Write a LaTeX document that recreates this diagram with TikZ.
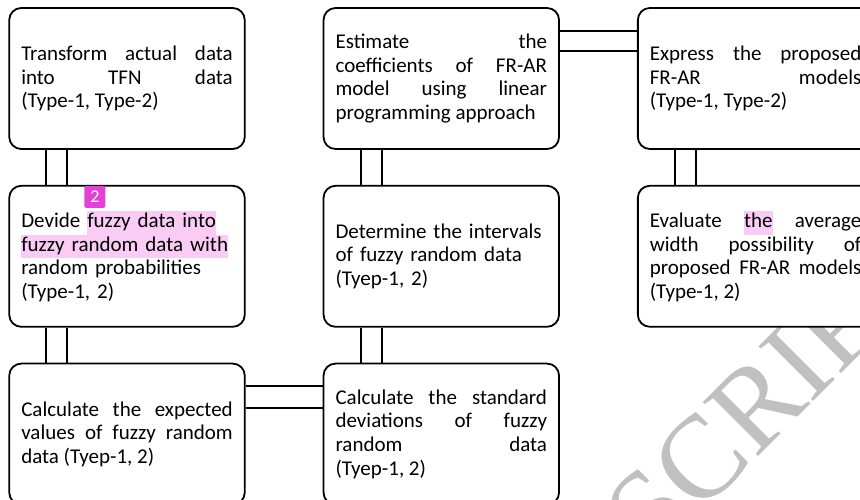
\documentclass[tikz,border=0pt]{standalone}
\usepackage{fontspec}
\setmainfont{Carlito}
\newfontfamily\wmfont{Liberation Serif}
\usetikzlibrary{positioning}

\definecolor{hlpink}{RGB}{250,204,245}
\definecolor{badgemag}{RGB}{228,64,214}
\definecolor{wmgray}{RGB}{192,192,192}

\newcommand{\hlt}[1]{{\setlength{\fboxsep}{0pt}\colorbox{hlpink}{\strut #1}}}

\tikzset{
  procbox/.style={draw, fill=white, line width=1.8pt, rounded corners=12pt,
    text width=211.5pt, inner xsep=12pt, inner ysep=0pt, align=justify,
    minimum height=141pt, font=\fontsize{21}{23.6}\selectfont\frenchspacing},
  link/.style={line width=1.8pt},
}

\begin{document}
\begin{tikzpicture}[x=1pt, y=1pt, node distance=35pt and 77pt]

\useasboundingbox (0,0) rectangle (860,500);
\clip (0,0) rectangle (860,500);

% watermark
\node[wmgray, rotate=45, anchor=base west, inner sep=0pt,
      font=\wmfont\fontsize{118}{118}\selectfont] (wm) at (653,-62) {SCRIPT};

% left column
\node[procbox] (transform) at (127,421.5)
  {Transform actual data\linebreak into TFN data\linebreak (Type-1, Type-2)};
\node[procbox, align=left, below=of transform] (divide)
  {Devide \hlt{fuzzy data into}\\ \hlt{fuzzy random data with}\\ random probabilities\\ (Type-1, 2)};
\node[procbox, below=of divide] (expect)
  {Calculate the expected\linebreak values of fuzzy random\linebreak data (Tyep-1, 2)};

% middle column
\node[procbox, right=of transform] (estimate)
  {Estimate the\linebreak coefficients of FR-AR\linebreak model using linear\linebreak programming approach};
\node[procbox, align=left, below=of estimate] (interval)
  {Determine the intervals\\ of fuzzy random data\\ (Tyep-1, 2)};
\node[procbox, below=of interval] (stdev)
  {Calculate the standard\linebreak deviations of fuzzy\linebreak random data\linebreak (Tyep-1, 2)};

% right column
\node[procbox, right=of estimate] (express)
  {Express the proposed\linebreak FR-AR models\linebreak (Type-1, Type-2)};
\node[procbox, below=of express] (evaluate)
  {Evaluate \hlt{the} average\linebreak width possibility of\linebreak proposed FR-AR models\linebreak (Type-1, 2)};

% comment marker
\node[fill=badgemag, text=white, rounded corners=2pt, inner sep=0pt,
      minimum width=21pt, minimum height=22pt,
      font=\fontsize{18}{18}\selectfont] (badge)
  at ([xshift=86.5pt, yshift=-12pt]divide.north west) {2};

% double links
\draw[link] ([xshift=38pt]transform.south west) -- ([xshift=38pt]divide.north west);
\draw[link] ([xshift=59pt]transform.south west) -- ([xshift=59pt]divide.north west);
\draw[link] ([xshift=38pt]divide.south west) -- ([xshift=38pt]expect.north west);
\draw[link] ([xshift=59pt]divide.south west) -- ([xshift=59pt]expect.north west);
\draw[link] ([xshift=38pt]estimate.south west) -- ([xshift=38pt]interval.north west);
\draw[link] ([xshift=59pt]estimate.south west) -- ([xshift=59pt]interval.north west);
\draw[link] ([xshift=38pt]interval.south west) -- ([xshift=38pt]stdev.north west);
\draw[link] ([xshift=59pt]interval.south west) -- ([xshift=59pt]stdev.north west);
\draw[link] ([xshift=38pt]express.south west) -- ([xshift=38pt]evaluate.north west);
\draw[link] ([xshift=59pt]express.south west) -- ([xshift=59pt]evaluate.north west);
\draw[link] ([yshift=-23.5pt]expect.north east) -- ([yshift=-23.5pt]stdev.north west);
\draw[link] ([yshift=-45pt]expect.north east) -- ([yshift=-45pt]stdev.north west);
\draw[link] ([yshift=-24pt]estimate.north east) -- ([yshift=-24pt]express.north west);
\draw[link] ([yshift=-44pt]estimate.north east) -- ([yshift=-44pt]express.north west);

\end{tikzpicture}
\end{document}
